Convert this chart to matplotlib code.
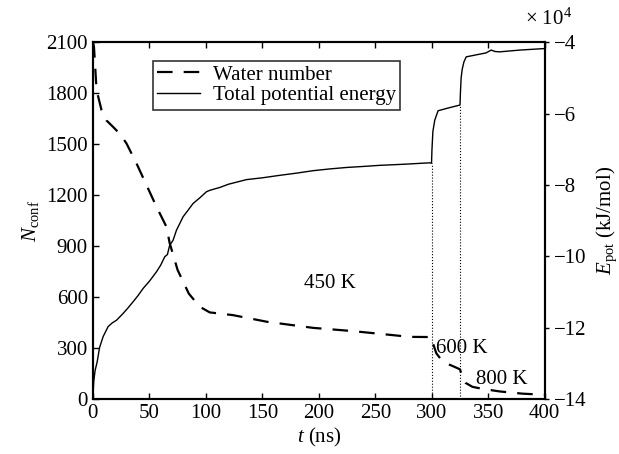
import numpy as np
import matplotlib.pyplot as plt

plt.rcParams['font.family'] = 'Liberation Serif'
plt.rcParams['mathtext.fontset'] = 'custom'
plt.rcParams['mathtext.rm'] = 'Liberation Serif'
plt.rcParams['mathtext.it'] = 'Liberation Serif:italic'
plt.rcParams['font.size'] = 15

# water number (left axis)
t_water = [0, 1, 3.3, 7.7, 12, 18, 24, 29.8, 38.7, 47.5, 56.4, 65.2, 68, 75, 85, 94.7,
           103.5, 124, 154, 195, 230, 260, 280.5, 299.7, 301, 304, 308, 313, 320, 325,
           327, 330, 336, 345, 360, 380, 400]
n_water = [2100, 2072, 1818, 1700, 1640, 1601, 1560, 1504, 1386, 1259, 1131, 1013, 918,
           760, 620, 543, 510, 494, 455, 419, 400, 380, 366, 365, 330, 270, 235, 210,
           190, 175, 130, 95, 72, 60, 45, 32, 25]

# total potential energy (right axis, x 1e4 kJ/mol)
t_energy = [0, 0.8, 2, 3.8, 6, 9.1, 13.5, 17, 21, 26.8, 31, 35.7, 40, 44.5, 50, 56.4,
            60, 63.7, 66, 68, 71, 74, 79.9, 84, 88.7, 94.7, 100.6, 103.5, 112.4, 120,
            136, 150, 165.5, 180, 195, 210, 224.5, 240, 254, 275, 298, 299.8, 300.2,
            301, 302.7, 305.6, 315, 325, 325.4, 326, 327, 328.5, 330.5, 340, 348,
            352.6, 356, 360, 378, 398.5, 400]
e_energy = [-14.0, -13.5, -13.2, -12.96, -12.55, -12.25, -11.97, -11.87, -11.79, -11.6,
            -11.45, -11.27, -11.1, -10.9, -10.7, -10.43, -10.25, -10.01, -9.95, -9.69,
            -9.55, -9.27, -8.89, -8.72, -8.52, -8.36, -8.19, -8.15, -8.07, -7.98,
            -7.85, -7.8, -7.73, -7.67, -7.6, -7.55, -7.51, -7.48, -7.45, -7.42, -7.38,
            -7.39, -7.0, -6.5, -6.18, -5.92, -5.84, -5.76, -5.4, -5.0, -4.75, -4.55,
            -4.41, -4.35, -4.3, -4.22, -4.26, -4.27, -4.22, -4.18, -4.18]

# temperature switch times and energy just before each switch
t_switch = [300, 325]
e_switch = [-7.38, -5.76]

temp_labels = ['450 K', '600 K', '800 K']
temp_t = [187, 304, 339]
temp_n = [680, 300, 118]

fig = plt.figure(figsize=(6.19, 4.54), dpi=100)
ax = fig.add_axes([0.150, 0.121, 0.730, 0.786])
ax2 = ax.twinx()

lw_dash, = ax.plot(t_water, n_water, 'k--', lw=1.6, dashes=(7, 5))
lw_solid, = ax2.plot(t_energy, e_energy, 'k-', lw=1.0)
for ts, es in zip(t_switch, e_switch):
    ax2.plot([ts, ts], [-14, es], 'k:', lw=0.8)

for lab, tx, ny in zip(temp_labels, temp_t, temp_n):
    ax.text(tx, ny, lab, ha='left', va='center')

ax.set_xlim(0, 400)
ax.set_ylim(0, 2100)
ax.set_xticks(np.arange(0, 401, 50))
ax.set_yticks(np.arange(0, 2101, 300))
ax2.set_ylim(-14, -4)
ax2.set_yticks(np.arange(-14, -3, 2))
ax2.set_yticklabels(['\u221214', '\u221212', '\u221210', '\u22128', '\u22126', '\u22124'])

ax.tick_params(direction='in', top=True, right=False, length=4, width=1)
ax2.tick_params(direction='out', length=3, width=1)
for a in (ax, ax2):
    for s in a.spines.values():
        s.set_linewidth(1.5)

ax.set_xlabel('$t$ (ns)', labelpad=2)
ax.set_ylabel(r'$N_{\rm conf}$', labelpad=4)
ax2.set_ylabel(r'$E_{\rm pot}$ (kJ/mol)', rotation=90, labelpad=6)
fig.text(0.848, 0.958, r'$\times$ 10$^4$', ha='left', va='center')

leg = ax.legend([lw_dash, lw_solid], ['Water number', 'Total potential energy'],
                loc='upper left', bbox_to_anchor=(0.12, 0.965), frameon=True,
                fancybox=False, edgecolor='k', handlelength=2.05, borderpad=0.2,
                labelspacing=0.05, handletextpad=0.6, borderaxespad=0.3)
leg.get_frame().set_linewidth(1.2)

fig.savefig('out.png', dpi=100)
